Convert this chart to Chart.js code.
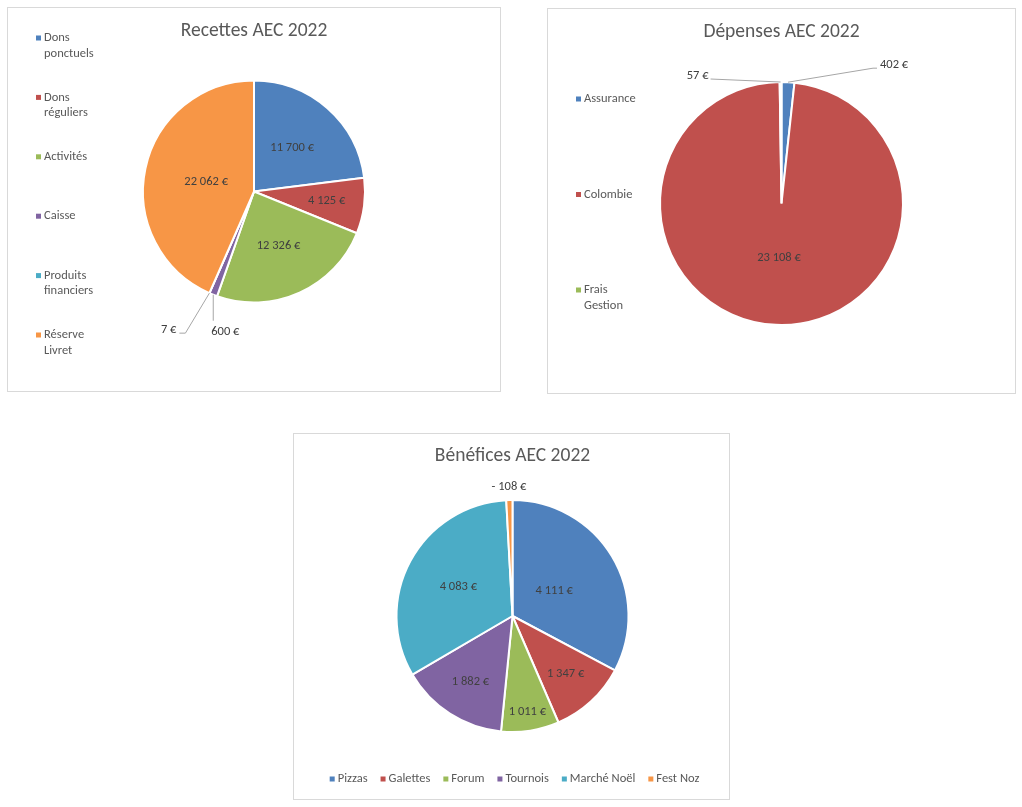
<!DOCTYPE html>
<html>
<head>
<meta charset="utf-8">
<script src="https://cdn.jsdelivr.net/npm/chart.js@4.4.0/dist/chart.umd.min.js"></script>
<style>
  body { margin: 0; background: #fff; }
  .box { position: absolute; box-sizing: border-box; border: 1px solid #d9d9d9; background: #fff; }
  .box canvas { display: block; }
</style>
</head>
<body>
<div class="box" style="left:7px;top:7px;width:494px;height:385px"><canvas id="recettesChart" width="492" height="383"></canvas></div>
<div class="box" style="left:547px;top:8px;width:469px;height:386px"><canvas id="depensesChart" width="467" height="384"></canvas></div>
<div class="box" style="left:293px;top:433px;width:437px;height:367px"><canvas id="beneficesChart" width="435" height="365"></canvas></div>
<script>
const FONT = "Carlito, Lato, sans-serif";
const couleurs = ["#4F81BD", "#C0504D", "#9BBB59", "#8064A2", "#4BACC6", "#F79646"];

// Recettes
const recettesLabels = ["Dons ponctuels", "Dons réguliers", "Activités", "Caisse", "Produits financiers", "Réserve Livret"];
const recettesValeurs = [11700, 4125, 12326, 600, 7, 22062];

// Dépenses
const depensesLabels = ["Assurance", "Colombie", "Frais Gestion"];
const depensesValeurs = [402, 23108, 57];

// Bénéfices
const beneficesLabels = ["Pizzas", "Galettes", "Forum", "Tournois", "Marché Noël", "Fest Noz"];
const beneficesValeurs = [4111, 1347, 1011, 1882, 4083, -108];

function euro(v) {
    const s = String(Math.abs(v)).replace(/\B(?=(\d{3})+(?!\d))/g, " ");
    return (v < 0 ? "- " : "") + s + " €";
}

// étiquettes de données façon Excel
const pieLabels = {
    id: "pieLabels",
    afterDatasetsDraw(chart, args, opts) {
        const ctx = chart.ctx;
        const meta = chart.getDatasetMeta(0);
        const values = chart.data.datasets[0].data;
        ctx.save();
        ctx.font = "12.5px " + FONT;
        ctx.fillStyle = "#404040";
        ctx.textBaseline = "middle";
        meta.data.forEach((arc, i) => {
            const p = arc.getProps(["x", "y", "startAngle", "endAngle", "outerRadius"], true);
            const mid = (p.startAngle + p.endAngle) / 2;
            const pos = opts.place[i] || { r: 0.55 };
            const text = euro(values[i]);
            if (pos.line) {
                const sx = p.x + Math.cos(mid) * p.outerRadius;
                const sy = p.y + Math.sin(mid) * p.outerRadius;
                const ex = sx + pos.line[0], ey = sy + pos.line[1];
                ctx.strokeStyle = "#a6a6a6";
                ctx.lineWidth = 1;
                ctx.beginPath();
                ctx.moveTo(sx, sy);
                ctx.lineTo(ex, ey);
                ctx.lineTo(ex + pos.hx, ey);
                ctx.stroke();
                ctx.textAlign = pos.align;
                ctx.fillText(text, ex + pos.hx + pos.tx, ey + pos.ty);
            } else {
                const r = p.outerRadius * pos.r;
                ctx.textAlign = "center";
                ctx.fillText(text, p.x + Math.cos(mid) * r, p.y + Math.sin(mid) * r);
            }
        });
        ctx.restore();
    }
};

// légende dessinée à la main (verticale ou horizontale)
const excelLegend = {
    id: "excelLegend",
    afterDraw(chart, args, opts) {
        const ctx = chart.ctx;
        const labels = chart.data.labels;
        const colors = chart.data.datasets[0].backgroundColor;
        ctx.save();
        ctx.font = "12.5px " + FONT;
        ctx.fillStyle = "#595959";
        ctx.textBaseline = "middle";
        ctx.textAlign = "left";
        if (opts.vertical) {
            labels.forEach((lab, i) => {
                const y = opts.y + i * opts.dy;
                ctx.fillStyle = colors[i];
                ctx.fillRect(opts.x, y - 2.5, 5, 5);
                ctx.fillStyle = "#595959";
                lab.split(" ").forEach((w, j) => ctx.fillText(w, opts.x + 8, y + j * 15.5));
            });
        } else {
            const widths = labels.map(l => 8 + ctx.measureText(l).width);
            const total = widths.reduce((a, b) => a + b, 0) + opts.gap * (labels.length - 1);
            let x = opts.cx - total / 2;
            labels.forEach((lab, i) => {
                ctx.fillStyle = colors[i];
                ctx.fillRect(x, opts.y - 2.5, 5, 5);
                ctx.fillStyle = "#595959";
                ctx.fillText(lab, x + 8, opts.y);
                x += widths[i] + opts.gap;
            });
        }
        ctx.restore();
    }
};

function titre(text, top, bottom) {
    return { display: true, text: text, color: "#595959", font: { family: FONT, size: 19.5, weight: "normal", lineHeight: 1.2 }, padding: { top: top, bottom: bottom } };
}

new Chart(document.getElementById("recettesChart"), {
    type: "pie",
    data: {
        labels: recettesLabels,
        datasets: [{ data: recettesValeurs, backgroundColor: couleurs, borderColor: "#fff", borderWidth: 2 }]
    },
    options: {
        responsive: false,
        animation: false,
        layout: { padding: { left: 134, right: 134, top: 0, bottom: 87.5 } },
        plugins: {
            legend: { display: false },
            tooltip: { enabled: false },
            title: titre("Recettes AEC 2022", 11.3, 36.8),
            pieLabels: {
                place: [
                    { r: 0.52 }, { r: 0.66 }, { r: 0.54 },
                    { line: [0, 26], hx: 0, tx: -2, ty: 11, align: "left" },
                    { line: [-24, 40], hx: -6, tx: -3, ty: -3, align: "right" },
                    { r: 0.44 }
                ]
            },
            excelLegend: { vertical: true, x: 28, y: 30, dy: 59.4 }
        }
    },
    plugins: [pieLabels, excelLegend]
});

new Chart(document.getElementById("depensesChart"), {
    type: "pie",
    data: {
        labels: depensesLabels,
        datasets: [{ data: depensesValeurs, backgroundColor: couleurs.slice(0, 3), borderColor: "#fff", borderWidth: 2 }]
    },
    options: {
        responsive: false,
        animation: false,
        layout: { padding: { left: 111, right: 111, top: 0, bottom: 67 } },
        plugins: {
            legend: { display: false },
            tooltip: { enabled: false },
            title: titre("Dépenses AEC 2022", 11, 37.6),
            pieLabels: {
                place: [
                    { line: [85, -14], hx: 4, tx: 3, ty: -3, align: "left" },
                    { r: 0.445 },
                    { line: [-70, -3], hx: 0, tx: -2, ty: -3, align: "right" }
                ]
            },
            excelLegend: { vertical: true, x: 28, y: 90, dy: 95.5 }
        }
    },
    plugins: [pieLabels, excelLegend]
});

new Chart(document.getElementById("beneficesChart"), {
    type: "pie",
    data: {
        labels: beneficesLabels,
        datasets: [{ data: beneficesValeurs, backgroundColor: couleurs, borderColor: "#fff", borderWidth: 2 }]
    },
    options: {
        responsive: false,
        animation: false,
        layout: { padding: { left: 101.5, right: 99.5, top: 0, bottom: 66 } },
        plugins: {
            legend: { display: false },
            tooltip: { enabled: false },
            title: titre("Bénéfices AEC 2022", 10.3, 31.3),
            pieLabels: {
                place: [{ r: 0.42 }, { r: 0.675 }, { r: 0.84 }, { r: 0.67 }, { r: 0.53 }, { r: 1.11 }]
            },
            excelLegend: { vertical: false, cx: 220.5, y: 345, gap: 13 }
        }
    },
    plugins: [pieLabels, excelLegend]
});
</script>
</body>
</html>
